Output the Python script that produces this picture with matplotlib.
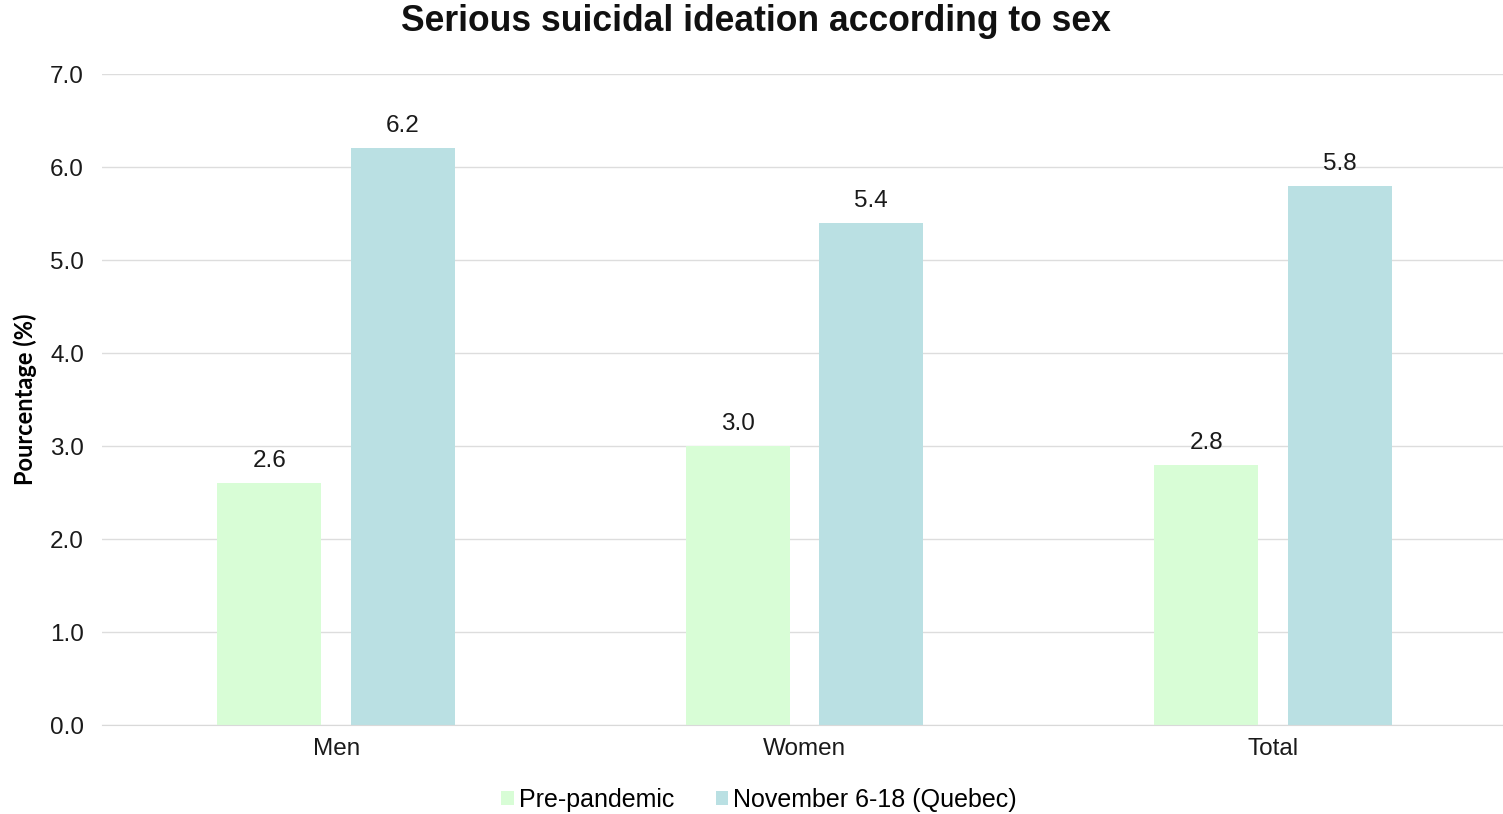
import numpy as np
import matplotlib
matplotlib.use('Agg')
import matplotlib.pyplot as plt

categories = ['Men', 'Women', 'Total']
pre_pandemic = [2.6, 3.0, 2.8]
november = [6.2, 5.4, 5.8]
series_labels = ['Pre-pandemic', 'November 6-18 (Quebec)']

plt.rcParams['font.family'] = ['Liberation Sans', 'DejaVu Sans']

fig = plt.figure(figsize=(15.03, 8.14), dpi=100)
ax = fig.add_axes([0.0679, 0.1093, 0.9348, 0.7997])

x = np.arange(len(categories))
width = 0.222
offset = 0.1425

b1 = ax.bar(x - offset, pre_pandemic, width, color='#D8FDD6', label=series_labels[0], zorder=2)
b2 = ax.bar(x + offset, november, width, color='#BAE0E3', label=series_labels[1], zorder=2)

for bars in (b1, b2):
    for rect in bars:
        h = rect.get_height()
        ax.annotate('%.1f' % h, (rect.get_x() + rect.get_width() / 2, h),
                    xytext=(0, 8), textcoords='offset points',
                    ha='center', va='bottom', fontsize=17.5, color='#1a1a1a')

ax.set_xlim(-0.5, 2.5)
ax.set_ylim(0, 7)
ax.set_yticks(np.arange(0, 7.01, 1.0))
ax.set_yticklabels(['%.1f' % v for v in np.arange(0, 7.01, 1.0)])
ax.set_xticks(x)
ax.set_xticklabels(categories)
ax.tick_params(axis='both', length=0, labelsize=17.5, colors='#1a1a1a')
ax.tick_params(axis='y', pad=13)
ax.tick_params(axis='x', pad=9)

ax.yaxis.grid(True, color='#DDDDDD', linewidth=1, zorder=0)
for s in ['top', 'right', 'left']:
    ax.spines[s].set_visible(False)
ax.spines['bottom'].set_color('#D9D9D9')
ax.spines['bottom'].set_zorder(3)

ax.set_ylabel('Pourcentage (%)', fontsize=17, fontweight='bold',
              family=['Lato', 'DejaVu Sans'])
ax.yaxis.set_label_coords(-0.0465, 0.5)

fig.text(0.503, 0.973, 'Serious suicidal ideation according to sex', fontsize=25.6,
         fontweight='bold', ha='center', va='center', color='#111111')

fig.legend(handles=[b1, b2], labels=series_labels, loc='center',
           bbox_to_anchor=(0.505, 0.0172), ncol=2, frameon=False,
           fontsize=18, handlelength=0.5, handleheight=0.5, handletextpad=0.2,
           columnspacing=1.65, borderpad=0)

fig.savefig('out.png', dpi=100)
